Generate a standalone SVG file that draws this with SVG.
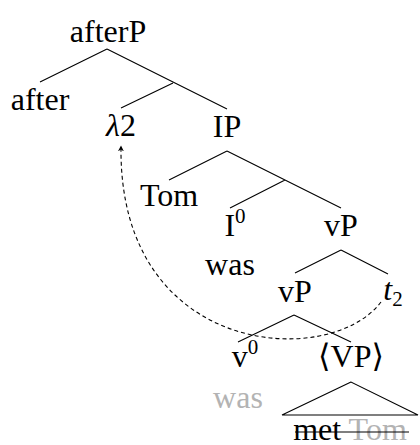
<svg xmlns="http://www.w3.org/2000/svg" width="420" height="445" viewBox="0 0 420 445">
<style>
text{font-family:"Liberation Serif","DejaVu Serif",serif;font-size:32px;fill:#000;text-anchor:middle}
.gray{fill:#b3b3b3}
.it{font-style:italic}
.sup{font-size:21px}
.e{stroke:#000;stroke-width:1.1;fill:none}
</style>
<defs>
<marker id="ah" viewBox="0 0 10 10" refX="9" refY="5" markerWidth="6" markerHeight="6" orient="auto" markerUnits="userSpaceOnUse">
<path d="M0,0 L10,5 L0,10 L3,5 Z" fill="#000"/>
</marker>
</defs>
<g id="edges">
<path class="e" d="M107,49 L40,82 M107,49 L227,109 M173,83 L121,108 M227,151 L169,180 M227,151 L341,208 M285,180 L230,208 M341,250 L295,273 M341,250 L388,274 M294,315 L238,342 M294,315 L351,342 M351,382 L282,415 L418,415 Z"/>
<path d="M381,302 C330,370 118,358 121,146" fill="none" stroke="#000" stroke-width="1.1" stroke-dasharray="4,3" marker-end="url(#ah)"/>
</g>
<g id="afterP"><text x="108" y="42">afterP</text></g>
<g id="after"><text x="40" y="110">after</text></g>
<g id="lambda2"><text x="121" y="136"><tspan class="it">λ</tspan>2</text></g>
<g id="IP"><text x="227" y="137">IP</text></g>
<g id="Tom"><text x="169" y="206">Tom</text></g>
<g id="I0"><text x="235" y="236">I<tspan class="sup" dy="-13">0</tspan></text></g>
<g id="vP1"><text x="341" y="236">vP</text></g>
<g id="was"><text x="230" y="275">was</text></g>
<g id="vP2"><text x="295" y="302">vP</text></g>
<g id="t2"><text x="393" y="300"><tspan class="it">t</tspan><tspan class="sup" dy="6">2</tspan></text></g>
<g id="v0"><text x="245" y="367">v<tspan class="sup" dy="-13">0</tspan></text></g>
<g id="VP"><text x="351" y="367">⟨VP⟩</text></g>
<g id="was2"><text class="gray" x="238" y="408">was</text></g>
<g id="metTom">
<text x="350" y="440">met <tspan class="gray">Tom</tspan></text>
<line x1="295" y1="432" x2="409" y2="432" stroke="#000" stroke-width="1.1"/>
</g>
</svg>
